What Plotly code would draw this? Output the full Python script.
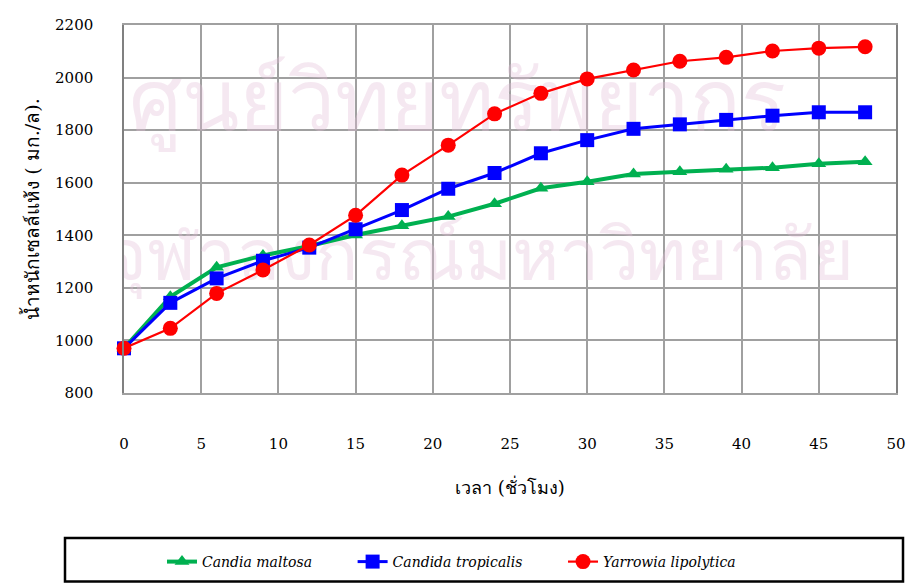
import plotly.graph_objects as go

hours = [0, 3, 6, 9, 12, 15, 18, 21, 24, 27, 30, 33, 36, 39, 42, 45, 48]
candia_maltosa = [970, 1166, 1278, 1323, 1359, 1401, 1436, 1471, 1520, 1579, 1604, 1633, 1642, 1651, 1657, 1672, 1680]
candida_tropicalis = [970, 1143, 1236, 1303, 1353, 1423, 1496, 1577, 1637, 1712, 1762, 1805, 1822, 1839, 1855, 1868, 1868]
yarrowia_lipolytica = [970, 1046, 1179, 1268, 1363, 1476, 1629, 1743, 1862, 1940, 1995, 2029, 2062, 2077, 2101, 2112, 2117]

x_ticks = [0, 5, 10, 15, 20, 25, 30, 35, 40, 45, 50]
y_ticks = [800, 1000, 1200, 1400, 1600, 1800, 2000, 2200]

watermark_lines = ["ศูนย์วิทยทรัพยากร", "จุฬาลงกรณ์มหาวิทยาลัย"]

W, H = 906, 583
L, R, T, B = 124, 10, 25, 190
pw, ph = W - L - R, H - T - B

def px(xp):
    return (xp - L) / pw

def py(yp):
    return (H - B - yp) / ph

SERIF = "DejaVu Serif"

fig = go.Figure()

# faint watermark (drawn first, below the data)
fig.add_trace(go.Scatter(
    x=[21.6, 23.0], y=[1880, 1300], mode="text",
    text=watermark_lines,
    textfont=dict(size=[84, 72], color="rgba(225,190,215,0.35)", family="Noto Sans"),
    showlegend=False, hoverinfo="skip", cliponaxis=True))

fig.add_trace(go.Scatter(
    x=hours, y=candia_maltosa, mode="lines+markers",
    name="<i>Candia maltosa</i>" + "\u00a0" * 8,
    line=dict(color="#00B050", width=4),
    marker=dict(symbol="triangle-up", size=13, color="#00B050"),
    cliponaxis=False))
fig.add_trace(go.Scatter(
    x=hours, y=candida_tropicalis, mode="lines+markers",
    name="<i>Candida tropicalis</i>" + "\u00a0" * 8,
    line=dict(color="#0000FF", width=3),
    marker=dict(symbol="square", size=14, color="#0000FF"),
    cliponaxis=False))
fig.add_trace(go.Scatter(
    x=hours, y=yarrowia_lipolytica, mode="lines+markers",
    name="<i>Yarrowia lipolytica</i>",
    line=dict(color="#FF0000", width=2.2),
    marker=dict(symbol="circle", size=15, color="#FF0000"),
    cliponaxis=False))

tick_font = dict(family=SERIF, size=15, color="black")

fig.update_layout(
    template="none",
    width=W, height=H,
    margin=dict(l=L, r=R, t=T, b=B, autoexpand=False),
    paper_bgcolor="white", plot_bgcolor="white",
    font=dict(family=SERIF, size=15, color="black"),
    showlegend=True,
    legend=dict(orientation="h", x=px(162), y=py(562), xanchor="left", yanchor="middle",
                font=dict(family=SERIF, size=14, color="black"),
                bgcolor="rgba(0,0,0,0)", borderwidth=0, itemwidth=30),
    xaxis=dict(range=[0, 50], tickvals=x_ticks, ticktext=[str(v) for v in x_ticks],
               showgrid=True, gridcolor="#A0A0A0", gridwidth=1.5,
               showline=True, linecolor="#A0A0A0", linewidth=1.5, mirror=True,
               zeroline=False, ticks="", ticklabelstandoff=36, automargin=False,
               tickfont=tick_font,
               title=dict(text="เวลา (ชั่วโมง)", font=dict(family=SERIF, size=18, color="black"), standoff=30)),
    yaxis=dict(range=[800, 2200], tickvals=y_ticks,
               showgrid=True, gridcolor="#A0A0A0", gridwidth=1.5,
               showline=True, linecolor="#808080", linewidth=1.5, mirror=True,
               zeroline=False, ticks="", ticklabelstandoff=26, automargin=False,
               tickfont=tick_font,
               title=dict(text="น้ำหนักเซลล์แห้ง ( มก./ล).", font=dict(family=SERIF, size=19, color="black"), standoff=10)),
    shapes=[dict(type="rect", xref="paper", yref="paper",
                 x0=px(65), x1=px(903), y0=py(581.5), y1=py(538),
                 line=dict(color="black", width=2.5), fillcolor="rgba(0,0,0,0)", layer="above")],
)

fig.write_html("out.html")
